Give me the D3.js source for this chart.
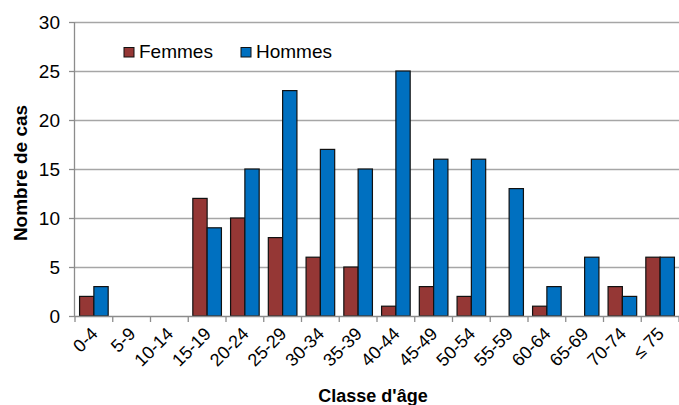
<!DOCTYPE html>
<html><head><meta charset="utf-8">
<script src="https://cdn.jsdelivr.net/npm/d3@7"></script>
<style>body{margin:0;background:#fff}svg{display:block;font-family:"Liberation Sans",Arial,sans-serif}</style>
</head><body><svg id="c" width="679" height="405"></svg>
<script>
const categories = ["0-4","5-9","10-14","15-19","20-24","25-29","30-34","35-39","40-44","45-49","50-54","55-59","60-64","65-69","70-74","≤ 75"];
const femmes = [2,0,0,12,10,8,6,5,1,3,2,0,1,0,3,6];
const hommes = [3,0,0,9,15,23,17,15,25,16,16,13,3,6,2,6];
const seriesNames = ["Femmes","Hommes"];
const seriesColors = ["#953735","#0070C0"];
const yTicks = [0,5,10,15,20,25,30];

const svg = d3.select("#c");
const m = {l:75, r:679, t:22, b:316};
const x = d3.scaleBand().domain(categories).range([m.l, m.r]).paddingInner(0).paddingOuter(0);
const x1 = d3.scaleBand().domain(seriesNames).range([0, x.bandwidth()]).paddingInner(0).paddingOuter(0.32);
const y = d3.scaleLinear().domain([0,30]).range([m.b, m.t]);

// grid
svg.append("g").selectAll("line").data(yTicks.filter(d=>d>0)).join("line")
  .attr("x1", m.l).attr("x2", m.r).attr("y1", d=>y(d)+0.5).attr("y2", d=>y(d)+0.5)
  .attr("stroke","#a6a6a6").attr("stroke-width",1.3);

// y axis
const ya = svg.append("g").attr("transform",`translate(${m.l},0)`)
  .call(d3.axisLeft(y).tickValues(yTicks).tickSize(6).tickPadding(9));
ya.select(".domain").attr("stroke","#8c8c8c").attr("stroke-width",1.3).attr("d",`M-0.5,${m.t}V${m.b}`);
ya.selectAll(".tick line").attr("stroke","#8c8c8c").attr("stroke-width",1.3);
ya.selectAll("text").attr("font-size",19).attr("fill","#000").attr("font-family","Liberation Sans, Arial, sans-serif");

// bars
const data = [femmes, hommes];
const g = svg.append("g");
seriesNames.forEach((s,si)=>{
  g.append("g").selectAll("rect").data(categories.map((c,i)=>({c,v:data[si][i]})).filter(d=>d.v>0)).join("rect")
    .attr("x", d=>x(d.c)+x1(s))
    .attr("width", x1.bandwidth())
    .attr("y", d=>y(d.v))
    .attr("height", d=>y(0)-y(d.v))
    .attr("fill", seriesColors[si])
    .attr("stroke","#111").attr("stroke-width",1.2);
});

// x axis
const xa = svg.append("g").attr("transform",`translate(0,${m.b})`);
xa.append("line").attr("x1",m.l).attr("x2",m.r).attr("y1",0.5).attr("y2",0.5).attr("stroke","#8c8c8c").attr("stroke-width",1.3);
const tickPos = categories.map((c,i)=>x(c)).concat([m.r]);
xa.selectAll("line.t").data(tickPos).join("line").attr("class","t")
  .attr("x1",d=>d).attr("x2",d=>d).attr("y1",0).attr("y2",6).attr("stroke","#8c8c8c").attr("stroke-width",1.3);
xa.selectAll("text").data(categories).join("text")
  .attr("transform", d=>`translate(${x(d)+x.bandwidth()/2+5},${19}) rotate(-45)`)
  .attr("text-anchor","end").attr("font-size",18).attr("fill","#000")
  .text(d=>d);

// axis titles
svg.append("text").attr("transform",`translate(27,173) rotate(-90)`)
  .attr("text-anchor","middle").attr("font-size",19).attr("font-weight","bold").text("Nombre de cas");
svg.append("text").attr("x",373).attr("y",402).attr("text-anchor","middle")
  .attr("font-size",18).attr("font-weight","bold").text("Classe d'âge");

// legend
const legX = [124, 241];
seriesNames.forEach((s,i)=>{
  svg.append("rect").attr("x",legX[i]).attr("y",47.5).attr("width",10).attr("height",9.5)
    .attr("fill",seriesColors[i]).attr("stroke","#111").attr("stroke-width",1);
  svg.append("text").attr("x",legX[i]+15).attr("y",58.3).attr("font-size",19).text(s);
});
</script></body></html>
